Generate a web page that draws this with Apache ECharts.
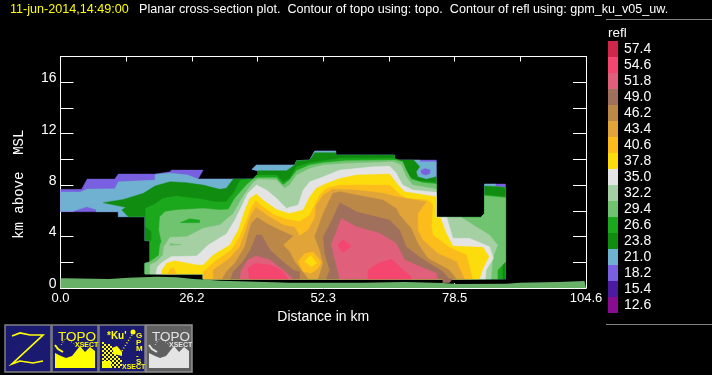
<!DOCTYPE html>
<html>
<head>
<meta charset="utf-8">
<style>html,body{margin:0;padding:0;background:#000}#c{width:712px;height:375px}</style>
<script src="https://cdn.jsdelivr.net/npm/echarts@6/dist/echarts.min.js"></script>
</head>
<body>
<div id="c"></div>
<script>
// Colour-scale classes (dBZ) and colours
const reflLevels = [57.4,54.6,51.8,49.0,46.2,43.4,40.6,37.8,35.0,32.2,29.4,26.6,23.8,21.0,18.2,15.4,12.6];
const reflColors = ['#d0264a','#f4466f','#e0607c','#a0705c','#bc8848','#e0a438','#fcbc1c','#fcdc0c','#e4e4e4','#a4d0a4','#70c470','#1ca81c','#108c10','#70b0d0','#7860e0','#4c1ca0','#880c90'];
const xTickLabels = ['0.0','26.2','52.3','78.5','104.6'];
const yTickLabels = ['0','4','8','12','16'];

// Terrain: distance (km), height (km)
const topoDist = [0,0.9,9.6,13.6,19.2,23.1,26.5,29.8,31.8,37.4,45.6,60.1,68.5,76.1,78.8,88.8,91.4,99.0,104.3,104.6];
const topoHeight = [0.75,0.7,0.8,0.88,0.83,0.7,0.62,0.57,0.5,0.41,0.41,0.47,0.39,0.31,0.33,0.41,0.47,0.54,0.62,0.62];

// Contour regions, [distance km, height km], painted in order
const c18_2 = [[0,7.67],[4.2,7.67],[5.3,8.47],[10.8,8.47],[11.5,8.86],[18.8,8.86],[21.8,9.04],[22.1,9.17],[28.4,9.17],[27.4,8.47],[38.3,8.47],[39.3,8.78],[39.3,9.12],[38.1,9.22],[39.0,9.56],[46.6,9.56],[47.0,9.9],[49.6,9.95],[50.6,10.65],[54.8,10.65],[54.8,10.34],[66.5,10.34],[66.5,9.95],[74.8,9.95],[74.8,5.49],[83.7,5.49],[84.4,5.8],[84.4,8.08],[88.6,8.08],[88.6,0.7],[28.4,0.7],[28.4,1.09],[16.8,1.09],[16.8,1.92],[17.8,1.92],[17.8,3.68],[16.8,3.68],[16.8,5.54],[11.5,5.54],[11.5,5.93],[0,5.93]];
const c21_0 = [[0,7.46],[3.9,7.46],[5.3,7.69],[10.8,7.72],[11.5,8.26],[18.8,8.39],[18.8,8.83],[21.8,8.94],[25.4,8.78],[27.4,8.47],[38.3,8.47],[39.3,8.78],[39.3,9.12],[38.1,9.22],[39.0,9.56],[46.6,9.56],[47.0,9.9],[49.6,9.95],[50.6,10.65],[54.8,10.65],[54.8,10.34],[66.5,10.34],[66.5,9.95],[71.5,9.95],[71.6,9.82],[74.8,9.82],[74.8,5.49],[83.7,5.49],[84.4,5.8],[84.4,8.08],[86.6,8.08],[86.6,7.9],[88.6,7.82],[88.6,0.7],[28.4,0.7],[28.4,1.09],[16.8,1.09],[16.8,1.92],[17.8,1.92],[17.8,3.68],[16.8,3.68],[16.8,5.54],[11.5,5.54],[11.5,5.93],[7.1,5.93],[7.1,6.11],[5.2,6.32],[2.6,5.98],[0,5.98]];
const c18_2b = [[71.7,9.12],[72.5,9.3],[73.6,9.17],[73.5,8.91],[72.7,8.78],[71.9,8.91]];
const c23_8 = [[8.5,6.63],[12.5,6.89],[16.5,7.36],[18.8,7.93],[21.8,8.26],[25.1,8.19],[28.4,8.0],[31.7,7.67],[33.0,7.75],[34.4,8.47],[38.3,8.47],[39.3,8.78],[39.3,9.12],[45.0,9.12],[46.6,9.56],[47.0,9.9],[49.6,9.95],[50.6,10.52],[54.8,10.52],[54.8,10.34],[66.5,10.34],[66.5,9.95],[70.3,9.95],[71.5,9.43],[70.8,9.04],[71.1,8.65],[72.8,8.45],[74.8,8.65],[74.8,5.49],[83.7,5.49],[84.4,5.8],[84.4,7.93],[86.6,7.9],[88.6,7.82],[88.6,0.7],[28.4,0.7],[28.4,1.09],[16.8,1.09],[16.8,1.92],[17.8,1.92],[17.8,3.68],[16.8,3.68],[16.8,5.54],[13.5,5.54],[12.2,6.06],[13.0,6.27]];
const c26_6 = [[16.9,6.19],[18.8,6.53],[20.4,6.97],[23.1,7.15],[25.7,7.02],[28.4,6.89],[31.0,6.68],[33.0,6.71],[34.4,7.36],[35.8,8.39],[37.3,8.47],[38.3,8.47],[39,8.78],[43,8.78],[44.3,8.26],[45.6,8.52],[47.0,9.43],[49.6,9.74],[52.3,9.9],[55.6,10.08],[66.5,10.08],[67.8,9.9],[68.5,9.3],[69.5,8.65],[71.1,8.34],[74.8,8.21],[74.8,5.49],[83.7,5.49],[84.4,5.8],[84.4,7.23],[88.6,7.1],[88.6,2.1],[88.0,1.92],[88.0,0.7],[28.4,0.7],[28.4,1.09],[16.8,1.09],[16.8,1.92],[17.8,1.92],[17.8,3.68],[18.1,3.68],[18.1,4.38],[16.9,4.77]];
const c29_4 = [[19.8,5.54],[20.8,5.93],[23.1,6.06],[28.4,6.19],[31.7,6.06],[33.4,6.11],[34.7,6.97],[37.0,8.0],[38.3,8.45],[39.3,8.58],[43,8.58],[44.3,8.0],[45.6,8.39],[47,9.12],[49.6,9.56],[52.3,9.74],[56.9,9.9],[66.5,9.95],[68.1,9.82],[68.8,9.17],[69.8,8.45],[72.1,8.19],[74.8,8.08],[74.8,5.49],[83.7,5.49],[84.4,5.8],[84.4,7.18],[88.6,7.02],[88.6,2.05],[87.0,1.4],[87.0,0.7],[28.4,0.7],[28.4,1.09],[16.8,1.09],[16.8,1.92],[17.8,2.05],[18.8,2.31],[19.6,2.56],[19.8,3.34],[20.1,3.6],[19.6,4.51]];
const c26_6b = [[23.8,5.08],[25.7,5.39],[27.7,5.28],[27.7,5.08]];
const c32_2 = [[17.8,1.09],[17.8,1.79],[19.1,2.05],[20.4,2.56],[20.6,3.21],[21.8,3.94],[25.1,3.99],[28.4,4.64],[31.7,4.9],[34.4,5.8],[36.3,7.1],[38.3,8.19],[39.3,8.45],[43,8.39],[44.6,7.75],[45.6,8.0],[47,8.78],[49.6,9.3],[52.3,9.56],[56.9,9.69],[66.2,9.82],[67.8,9.56],[68.8,8.65],[70.1,8.0],[72.1,7.88],[74.8,7.67],[74.8,5.49],[79.8,5.49],[82.7,4.77],[85.4,4.12],[87.0,3.34],[86.0,2.31],[85.7,0.7],[28.4,0.7],[28.4,1.09]];
const c29_4b = [[21.8,3.46],[24.1,3.36],[21.8,3.32]];
const c35_0 = [[19.0,1.09],[19.3,1.66],[20.4,2.05],[22.1,2.44],[27.1,2.49],[29.4,3.34],[33.0,4.2],[34.7,5.28],[36.0,6.32],[37.3,7.36],[39,8.0],[41,7.62],[43,6.97],[45,6.19],[45.6,6.27],[47.3,6.45],[48.3,7.62],[49.6,8.26],[52.3,8.65],[55.6,9.17],[62.2,9.43],[65.5,9.48],[66.8,8.96],[68.1,8.0],[70.1,7.62],[74.8,7.44],[74.8,5.49],[76.9,5.49],[78.1,3.86],[81.4,3.86],[85.4,3.21],[86.2,2.31],[84.7,1.4],[84.6,0.7],[28.4,0.7],[28.4,1.09]];
const c37_8 = [[20.1,1.09],[20.2,1.4],[21.1,1.92],[22.8,2.12],[27.1,1.79],[28.4,1.79],[30.4,2.56],[33.7,3.34],[35.4,4.51],[36.7,6.06],[37.7,6.97],[39,7.31],[40.3,6.84],[43,6.11],[45,5.85],[45.6,5.8],[48.3,6.06],[49.6,7.1],[50.9,7.75],[52.9,8.13],[55.6,8.52],[58.9,8.78],[65.5,8.86],[67.2,8.0],[68.5,7.49],[74.8,7.1],[74.8,5.49],[75.6,5.49],[76.8,4.25],[78.1,3.26],[84.1,3.16],[85.3,2.44],[84.1,1.53],[83.4,0.7],[28.4,0.7],[28.4,1.09]];
const c40_6a = [[21.4,1.09],[21.8,1.45],[22.4,1.6],[23.1,1.09]];
const c40_6 = [[28.4,0.7],[28.4,1.27],[31.1,2.18],[34.0,2.95],[35.7,3.99],[37.3,5.54],[38.0,6.27],[38.9,6.79],[40,6.37],[42.6,5.67],[45,5.34],[47.6,5.16],[49.6,5.67],[50.6,6.45],[51.6,7.23],[52.9,7.75],[55.6,8.0],[65.5,8.0],[67.2,7.36],[68.8,6.97],[73.1,6.84],[74.1,6.45],[73.8,4.77],[74.1,4.12],[77.4,3.16],[80.8,2.56],[82,0.7]];
const c43_4 = [[30.4,0.7],[30.4,1.4],[33.7,2.31],[35.7,3.21],[36.9,4.51],[37.8,5.6],[38.9,6.27],[41,5.67],[44.3,4.9],[46.6,4.72],[47.6,4.04],[49.3,4.51],[50.6,5.41],[50.9,6.45],[52.3,7.23],[54.2,7.67],[58.9,7.62],[64.2,7.36],[66.8,7.1],[72.8,6.71],[71.1,5.8],[71.1,4.51],[72.1,3.73],[75.1,2.69],[78.8,2.05],[80.4,0.7]];
const c40_6b = [[47.3,2.05],[48.6,2.69],[50.3,2.82],[51.9,2.05],[51.3,1.53],[49.9,1.14],[48.3,1.27]];
const c37_8b = [[48.6,2.05],[49.8,2.56],[51.0,1.92],[50.0,1.66]];
const c46_2a = [[32.2,0.7],[33.0,1.27],[34.7,1.92],[36.7,3.21],[37.3,4.12],[38.0,5.03],[39.1,5.49],[41,5.03],[43.6,4.51],[46.3,4.04],[44.3,3.34],[45.6,2.82],[46.6,2.05],[47.9,1.4],[49.3,0.7]];
const c46_2b = [[51.3,0.7],[52.3,1.92],[51.6,2.95],[50.6,3.99],[52.3,5.8],[54.2,7.36],[55.6,7.49],[58.9,7.23],[64.2,6.84],[66.8,6.19],[67.5,5.67],[69.8,4.64],[71.1,3.47],[73.1,2.31],[77.4,1.4],[78.8,0.7]];
const c49_0a = [[33.9,0.7],[34.4,1.27],[36.3,2.05],[37.8,2.95],[39,4.12],[40,4.12],[41.7,2.95],[44.3,2.05],[46.3,1.4],[47.6,1.27],[47.6,0.7]];
const c49_0b = [[52.9,0.7],[53.6,1.4],[52.6,2.69],[52.3,3.99],[54.2,5.41],[55.6,6.63],[58.9,5.93],[65.5,5.28],[67.5,4.51],[68.8,3.21],[71.8,2.31],[76.1,1.27],[77.4,0.7]];
const c49_0c = [[76.1,0.7],[76.1,0.41],[77.4,0.41],[78,0.7]];
const c51_8a = [[35.7,0.7],[36,1.4],[37.3,2.18],[39,2.49],[41.7,2.18],[44.3,1.4],[46.3,0.7]];
const c51_8b = [[55.6,0.7],[53.9,3.34],[55.9,5.41],[58.9,4.77],[63.5,4.25],[66.8,3.47],[68.5,2.18],[74.8,1.14],[75.1,0.7]];
const c54_6a = [[37.6,0.7],[37.3,1.53],[38.7,1.92],[41.7,1.79],[44,1.4],[45.3,0.7]];
const c54_6b = [[61.2,0.7],[61.2,1.4],[63.2,1.92],[65.9,2.23],[67.5,1.66],[69.8,0.88],[69.8,0.7]];
const c54_6c = [[55.2,3.34],[56.2,3.78],[57.9,3.26],[56.2,2.75]];

// [class, region] in painting order
const regions = [
  [18.2,c18_2],[21.0,c21_0],[18.2,c18_2b],[23.8,c23_8],[26.6,c26_6],[29.4,c29_4],[26.6,c26_6b],
  [32.2,c32_2],[29.4,c29_4b],[35.0,c35_0],[37.8,c37_8],[40.6,c40_6a],[40.6,c40_6],[43.4,c43_4],
  [40.6,c40_6b],[37.8,c37_8b],[46.2,c46_2a],[46.2,c46_2b],[49.0,c49_0a],[49.0,c49_0b],[49.0,c49_0c],
  [51.8,c51_8a],[51.8,c51_8b],[54.6,c54_6a],[54.6,c54_6b],[54.6,c54_6c]
];

const FONT = '"Liberation Sans"';
const Y = '#ffff00', NAVY = '#1a1a70';

function topoIcon(x, bg, frame, fg) {
  const y = 325;
  return [
    {type:'rect',shape:{x:x,y:y,width:46,height:47},style:{fill:bg,stroke:frame,lineWidth:1.5}},
    {type:'polygon',shape:{points:[[x+3,y+28],[x+9,y+31],[x+14,y+33],[x+20,y+31],[x+28,y+21],[x+33,y+27],[x+38,y+22],[x+43,y+26],[x+43,y+43],[x+3,y+43]]},style:{fill:fg}},
    {type:'text',style:{x:x+6,y:y+5,text:'TOPO',fill:fg,font:'13.5px '+FONT}},
    {type:'text',style:{x:x+23,y:y+17,text:'XSECT',fill:fg,font:'bold 7px '+FONT}},
    {type:'polyline',shape:{points:[[x+3,y+20],[x+6,y+24],[x+11,y+27]]},style:{stroke:fg,lineWidth:2,fill:null}},
    {type:'polyline',shape:{points:[[x+9,y+20],[x+14,y+13],[x+21,y+18],[x+25,y+21]]},style:{stroke:fg,lineWidth:1,lineDash:[1,2],fill:null}}
  ];
}
function gpmIcon(x) {
  const y = 325, els = [
    {type:'rect',shape:{x:x,y:y,width:46,height:47},style:{fill:NAVY,stroke:'#808080',lineWidth:1.5}},
    {type:'text',style:{x:x+8,y:y+6,text:'*Ku\'',fill:Y,font:'bold 10px '+FONT}},
    {type:'text',style:{x:x+23,y:y+39,text:'XSECT',fill:Y,font:'bold 7px '+FONT}},
    {type:'polyline',shape:{points:[[x+23,y+26],[x+34,y+8]]},style:{stroke:Y,lineWidth:1.5,lineDash:[1,2],fill:null}},
    {type:'circle',shape:{cx:x+34,cy:y+7,r:2.5},style:{fill:Y}}
  ];
  ['G','P','M','-','S'].forEach((t,i)=>els.push({type:'text',style:{x:x+37,y:y+7+i*6.5,text:t,fill:Y,font:'bold 8px '+FONT}}));
  for (let i=0;i<10;i++) for (let j=0;j<13;j++) {
    const top = 17 + (i/10)*(i/10)*22;
    if ((i+j)%2===0 && 17+j*2>=top) els.push({type:'rect',shape:{x:x+3+i*2,y:y+17+j*2,width:2,height:2},style:{fill:Y}});
  }
  els.push({type:'polygon',shape:{points:[[x+13,y+23],[x+18,y+21],[x+23,y+27],[x+23,y+31],[x+15,y+29]]},style:{fill:Y}});
  els.push({type:'rect',shape:{x:x+3,y:y+36,width:9,height:7},style:{fill:Y}});
  return els;
}

const graphics = [
  {type:'rect',shape:{x:5,y:325,width:46,height:47},style:{fill:NAVY,stroke:'#808080',lineWidth:1.5}},
  {type:'polyline',shape:{points:[[12,336],[20,333],[30,335],[43,335],[12,364],[20,361],[33,363],[43,361]]},style:{stroke:Y,lineWidth:1.7,fill:null}},
  ...topoIcon(52,NAVY,'#808080',Y),
  ...gpmIcon(99),
  ...topoIcon(146,'#606060','#909090','#e4e4e4'),
  {type:'line',shape:{x1:606,y1:19.5,x2:712,y2:19.5},style:{stroke:'#808080',lineWidth:1}},
  {type:'line',shape:{x1:606,y1:324.5,x2:712,y2:324.5},style:{stroke:'#808080',lineWidth:1}}
];

const axisCommon = {
  axisLine:{show:true,onZero:false,lineStyle:{color:'#fff',width:1}},
  splitLine:{show:false}
};
const xLabel = v => { const i = Math.round(v/13.075); return i%2===0 ? xTickLabels[i/2] : ''; };
const yLabel = v => v%4===0 && v<18 ? yTickLabels[v/4] : '';

const chart = echarts.init(document.getElementById('c'), null, {renderer:'canvas'});
chart.setOption({
  backgroundColor:'#000',
  animation:false,
  textStyle:{fontFamily:FONT},
  title:[
    {text:'11-jun-2014,14:49:00',left:10,top:3,padding:0,textStyle:{color:'#ffff00',fontSize:12.6,fontWeight:'normal',fontFamily:FONT}},
    {text:'Planar cross-section plot.  Contour of topo using: topo.  Contour of refl using: gpm_ku_v05_uw.',left:139,top:3,padding:0,textStyle:{color:'#fff',fontSize:12.6,fontWeight:'normal',fontFamily:FONT}},
    {text:'refl',left:608,top:26,padding:0,textStyle:{color:'#fff',fontSize:13.5,fontWeight:'normal',fontFamily:FONT}}
  ],
  grid:{left:60.5,top:56.5,width:525.5,height:231.5,containLabel:false},
  xAxis:[
    {type:'value',min:0,max:104.6,interval:13.075,position:'bottom',...axisCommon,
     axisTick:{show:true,inside:true,length:5,lineStyle:{color:'#fff'}},
     axisLabel:{color:'#fff',fontSize:13,margin:4,formatter:xLabel,showMinLabel:true,showMaxLabel:true,hideOverlap:false,fontFamily:FONT},
     name:'Distance in km',nameLocation:'middle',nameGap:20,nameTextStyle:{color:'#fff',fontSize:14,fontFamily:FONT}},
    {type:'value',min:0,max:104.6,interval:13.075,position:'top',...axisCommon,
     axisTick:{show:true,inside:true,length:5,lineStyle:{color:'#fff'}},axisLabel:{show:false}}
  ],
  yAxis:[
    {type:'value',min:0,max:18,interval:2,position:'left',...axisCommon,
     axisTick:{show:true,inside:true,length:13,lineStyle:{color:'#fff'}},
     axisLabel:{color:'#fff',fontSize:14,margin:4,formatter:yLabel,verticalAlign:'bottom',lineHeight:8,showMinLabel:true,fontFamily:FONT},
     name:'km above  MSL',nameLocation:'middle',nameGap:34,nameRotate:90,
     nameTextStyle:{color:'#fff',fontSize:14,fontFamily:'"Liberation Mono"',padding:[0,24,0,0]}},
    {type:'value',min:0,max:18,interval:2,position:'right',...axisCommon,
     axisTick:{show:true,inside:true,length:13,lineStyle:{color:'#fff'}},axisLabel:{show:false}}
  ],
  visualMap:{
    type:'piecewise',seriesIndex:0,dimension:0,orient:'vertical',left:608,top:41,align:'left',
    itemWidth:10,itemHeight:16,itemGap:0,itemSymbol:'rect',textGap:6,padding:0,
    selectedMode:false,hoverLink:false,showLabel:true,
    textStyle:{color:'#fff',fontSize:14,fontFamily:FONT},
    pieces:reflLevels.map((v,i)=>({value:v,label:v.toFixed(1),color:reflColors[i]}))
  },
  series:[
    {type:'custom',coordinateSystem:'cartesian2d',silent:true,clip:true,
     encode:{x:-1,y:-1},
     data:regions.map((r,i)=>[r[0],i]),
     renderItem:(params,api)=>{
       const pts = regions[api.value(1)][1].map(p=>api.coord(p));
       const color = api.visual('color');
       return {type:'polygon',shape:{points:pts},style:{fill:color,stroke:color,lineWidth:0.4}};
     }},
    {type:'line',step:'end',showSymbol:false,silent:true,
     lineStyle:{width:0},areaStyle:{color:'#68b068',opacity:1},
     data:topoDist.map((d,i)=>[d,topoHeight[i]])}
  ],
  graphic:{elements:graphics.map(g=>Object.assign({silent:true},g))}
});
</script>
</body>
</html>
